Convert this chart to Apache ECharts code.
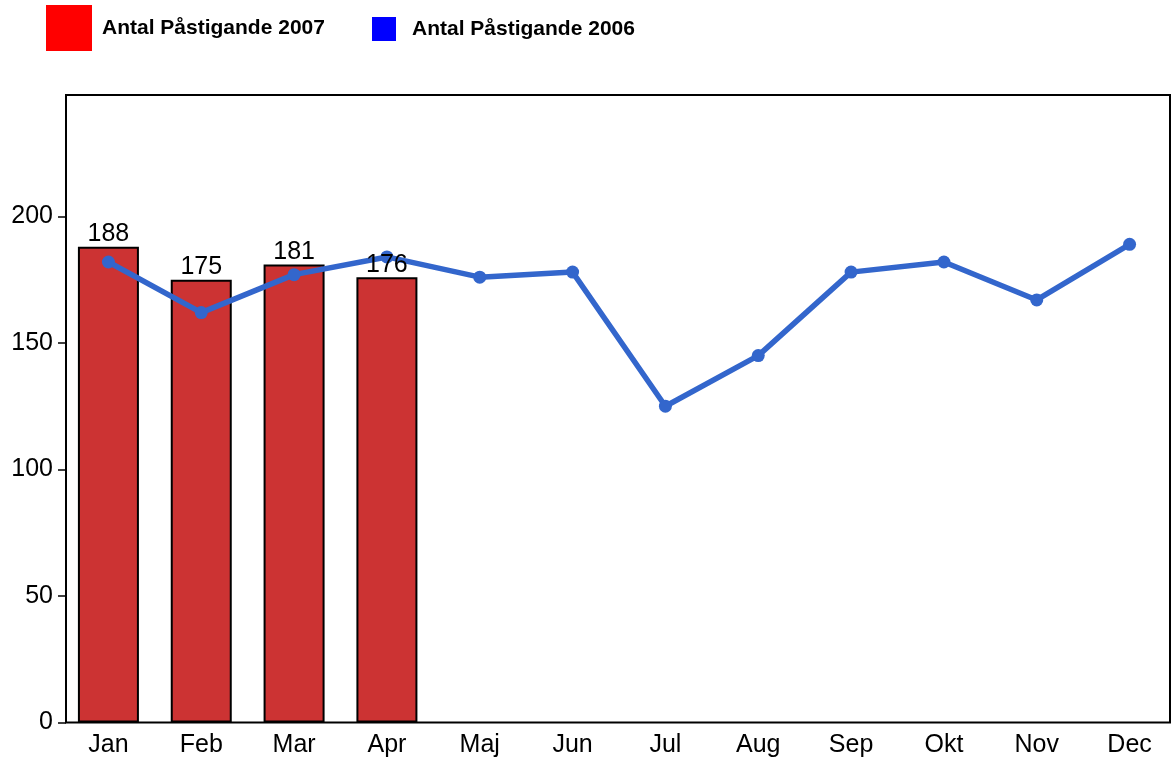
<!DOCTYPE html>
<html>
<head>
<meta charset="utf-8">
<script src="https://cdn.jsdelivr.net/npm/echarts@6/dist/echarts.min.js"></script>
<style>
html,body{margin:0;padding:0;background:#fff;}
#chart{width:1172px;height:760px;}
</style>
</head>
<body>
<div id="chart"></div>
<script>
const months = ['Jan','Feb','Mar','Apr','Maj','Jun','Jul','Aug','Sep','Okt','Nov','Dec'];
const values2007 = [188, 175, 181, 176];
const values2006 = [182, 162, 177, 184, 176, 178, 125, 145, 178, 182, 167, 189];
const yTicks = [0, 50, 100, 150, 200];
const name2007 = 'Antal Påstigande 2007';
const name2006 = 'Antal Påstigande 2006';

const chart = echarts.init(document.getElementById('chart'), null, {renderer: 'canvas'});
const font = '"Liberation Sans", Arial, sans-serif';

chart.setOption({
  animation: false,
  backgroundColor: '#ffffff',
  textStyle: {fontFamily: font},
  legend: [
    {
      left: 46, top: 5, padding: 0,
      itemWidth: 46, itemHeight: 46,
      selectedMode: false,
      data: [{name: name2007, icon: 'rect', itemStyle: {color: '#ff0000', borderWidth: 0}}],
      textStyle: {fontFamily: font, fontWeight: 'bold', fontSize: 21, color: '#000', padding: [0, 0, 0, 5]}
    },
    {
      left: 372, top: 17, padding: 0,
      itemWidth: 24, itemHeight: 24,
      selectedMode: false,
      data: [{name: name2006, icon: 'rect', itemStyle: {color: '#0000ff', borderWidth: 0}, lineStyle: {width: 0}}],
      textStyle: {fontFamily: font, fontWeight: 'bold', fontSize: 21, color: '#000', padding: [0, 0, 0, 11]}
    }
  ],
  grid: {left: 62, top: 95, width: 1114, height: 627.5, containLabel: false, outerBoundsMode: 'none'},
  graphic: [{
    type: 'rect', z: 10, silent: true,
    shape: {x: 66, y: 95, width: 1104, height: 627.5},
    style: {fill: 'none', stroke: '#000', lineWidth: 2}
  }],
  xAxis: {
    type: 'category',
    data: months,
    boundaryGap: true,
    axisLine: {show: false},
    axisTick: {show: false},
    splitLine: {show: false},
    axisLabel: {fontFamily: font, fontSize: 25, color: '#000', margin: 10}
  },
  yAxis: {
    type: 'value',
    min: 0, max: 248, interval: 50,
    offset: -4,
    axisLine: {show: false},
    axisTick: {show: true, length: 8, lineStyle: {color: '#000', width: 1.5}, customValues: yTicks},
    splitLine: {show: false},
    axisLabel: {fontFamily: font, fontSize: 25, color: '#000', margin: 13, customValues: yTicks}
  },
  series: [
    {
      name: name2007,
      type: 'bar',
      data: values2007,
      barWidth: 61,
      barGap: '-100%',
      z: 2,
      itemStyle: {color: '#cc3333', borderColor: '#000', borderWidth: 2}
    },
    {
      name: name2006,
      type: 'line',
      data: values2006,
      z: 3,
      symbol: 'circle',
      symbolSize: 13,
      lineStyle: {color: '#3366cc', width: 5.5},
      itemStyle: {color: '#3366cc'}
    },
    {
      name: 'labels2007',
      type: 'bar',
      data: values2007,
      barWidth: 61,
      barGap: '-100%',
      z: 5,
      silent: true,
      itemStyle: {color: 'rgba(0,0,0,0)', borderWidth: 0},
      label: {show: true, position: 'top', distance: 0, fontFamily: font, fontSize: 25, color: '#000'}
    }
  ]
});
</script>
</body>
</html>
